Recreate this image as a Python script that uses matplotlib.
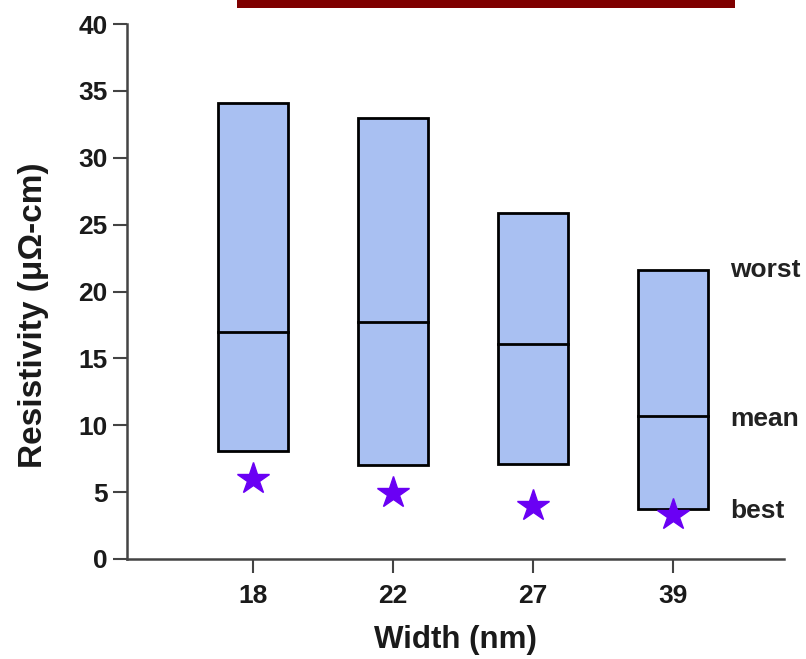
import numpy as np
import matplotlib.pyplot as plt
from matplotlib.patches import Rectangle

widths = ["18", "22", "27", "39"]
worst = [34.1, 33.0, 25.9, 21.6]
mean = [17.0, 17.7, 16.1, 10.7]
bottom = [8.1, 7.0, 7.1, 3.75]
best = [6.0, 4.9, 4.0, 3.3]

plt.rcParams['font.family'] = ['Liberation Sans', 'DejaVu Sans']
plt.rcParams['font.weight'] = 'bold'

fig = plt.figure(figsize=(8.06, 6.59), dpi=100)
fig.patch.set_facecolor('white')
# dark red banner at top
fig.patches.append(Rectangle((237 / 806, 1 - 8 / 659), (735 - 237) / 806, 8 / 659,
                             transform=fig.transFigure, facecolor='#7f0000',
                             edgecolor='none'))

ax = fig.add_axes([127 / 806, 1 - 559 / 659, 657 / 806, 535 / 659])
x = np.arange(len(widths))
bw = 0.5
for i in range(len(widths)):
    ax.bar(x[i], worst[i] - bottom[i], bottom=bottom[i], width=bw,
           color='#a9c0f2', edgecolor='black', linewidth=2, zorder=2)
    ax.plot([x[i] - bw / 2, x[i] + bw / 2], [mean[i], mean[i]], color='black',
            lw=2, zorder=3)
ax.plot(x, best, linestyle='none', marker='*', markersize=24, color='#6a00f4',
        markeredgecolor='#6a00f4', zorder=4)

ax.text(3.41, worst[3], "worst", fontsize=19, fontweight='bold', va='center',
        color='#222222')
ax.text(3.41, 10.45, "mean", fontsize=19, fontweight='bold', va='center',
        color='#222222')
ax.text(3.41, 3.6, "best", fontsize=19, fontweight='bold', va='center',
        color='#222222')

ax.set_xlim(-126 / 140, -126 / 140 + 657 / 140)
ax.set_ylim(0, 40)
ax.set_yticks(range(0, 41, 5))
ax.set_xticks(x)
ax.set_xticklabels(widths)
ax.tick_params(labelsize=19, width=1.5, length=10, colors='#444444',
               labelcolor='#1a1a1a')
ax.tick_params(axis='x', pad=8)
ax.tick_params(axis='y', pad=4)
for s in ['top', 'right']:
    ax.spines[s].set_visible(False)
for s in ['left', 'bottom']:
    ax.spines[s].set_linewidth(1.8)
    ax.spines[s].set_color('#444444')
ax.set_xlabel("Width (nm)", fontsize=22.5, fontweight='bold', labelpad=12,
              color='#1a1a1a')
ax.set_ylabel("Resistivity (\u03bc\u03a9-cm)", fontsize=24, fontweight='bold',
              color='#1a1a1a')
ax.yaxis.set_label_coords(-0.118, 0.455)

plt.savefig('out.png', dpi=100)
